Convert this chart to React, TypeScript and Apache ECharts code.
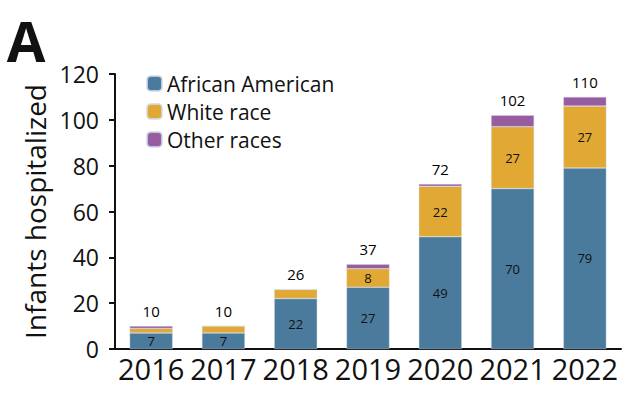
import React, { useEffect, useRef } from "react";
import * as echarts from "echarts";

const years = ["2016", "2017", "2018", "2019", "2020", "2021", "2022"];
const africanAmerican = [7, 7, 22, 27, 49, 70, 79];
const whiteRace = [2, 3, 4, 8, 22, 27, 27];
const otherRaces = [1, 0, 0, 2, 1, 5, 4];
const totals = [10, 10, 26, 37, 72, 102, 110];
const aaLabels = [7, 7, 22, 27, 49, 70, 79];
const whiteLabels: (number | null)[] = [null, null, null, 8, 22, 27, 27];
const yTicks = [0, 20, 40, 60, 80, 100, 120];

const FONT = "'Open Sans', 'Noto Sans', sans-serif";

export default function App() {
  const ref = useRef<HTMLDivElement>(null);
  useEffect(() => {
    if (!ref.current) return;
    const chart = echarts.init(ref.current, null, { renderer: "svg" });
    const barCommon = {
      type: "bar" as const,
      stack: "s",
      barWidth: 43,
      itemStyle: { borderColor: "rgba(210,220,235,0.8)", borderWidth: 0.5 },
    };
    chart.setOption({
      animation: false,
      textStyle: { fontFamily: FONT },
      graphic: [
        {
          type: "text",
          x: 26,
          y: 40,
          style: {
            text: "A",
            font: `bold 56px ${FONT}`,
            fill: "#111",
            align: "center",
            verticalAlign: "middle",
          },
        },
      ],
      legend: {
        data: ["African American", "White race", "Other races"],
        orient: "vertical",
        left: 141,
        top: 68,
        itemWidth: 15,
        itemHeight: 15,
        itemGap: 7,
        textStyle: { fontSize: 21, color: "#111", fontFamily: FONT },
      },
      grid: { left: 115, right: 13, top: 74, bottom: 53 },
      xAxis: {
        type: "category",
        data: years,
        axisLine: { lineStyle: { color: "#111", width: 2 } },
        axisTick: { show: false },
        axisLabel: { fontSize: 29, color: "#111", margin: 5, interval: 0, fontFamily: FONT },
      },
      yAxis: {
        type: "value",
        min: 0,
        max: 120,
        interval: 20,
        name: "Infants hospitalized",
        nameLocation: "middle",
        nameGap: 66,
        nameTextStyle: { fontSize: 28, color: "#111", fontFamily: FONT },
        axisLine: { show: true, lineStyle: { color: "#111", width: 2 } },
        axisTick: { show: true, length: 6, lineStyle: { color: "#111", width: 2 } },
        axisLabel: {
          fontSize: 23,
          color: "#111",
          margin: 16,
          fontFamily: FONT,
          formatter: (v: number) => (yTicks.includes(v) ? String(v) : ""),
        },
        splitLine: { show: false },
      },
      series: [
        {
          ...barCommon,
          name: "African American",
          data: africanAmerican,
          itemStyle: { ...barCommon.itemStyle, color: "#4a7b9d" },
          label: {
            show: true,
            position: "inside",
            fontSize: 13,
            color: "#111",
            formatter: (p: any) => String(aaLabels[p.dataIndex]),
          },
        },
        {
          ...barCommon,
          name: "White race",
          data: whiteRace,
          itemStyle: { ...barCommon.itemStyle, color: "#e1a834" },
          label: {
            show: true,
            position: "inside",
            fontSize: 13,
            color: "#111",
            formatter: (p: any) => {
              const v = whiteLabels[p.dataIndex];
              return v == null ? "" : String(v);
            },
          },
        },
        {
          ...barCommon,
          name: "Other races",
          data: otherRaces,
          itemStyle: { ...barCommon.itemStyle, color: "#985ca0" },
        },
        {
          type: "scatter",
          name: "Total",
          data: totals,
          symbolSize: 1,
          itemStyle: { color: "rgba(0,0,0,0)", opacity: 1 },
          label: {
            show: true,
            position: "top",
            distance: 7,
            fontSize: 15,
            color: "#000",
            opacity: 1,
          },
        },
      ],
    });
    return () => chart.dispose();
  }, []);
  return <div ref={ref} style={{ width: 634, height: 402, position: "absolute", left: 0, top: 0, background: "#fff" }} />;
}
